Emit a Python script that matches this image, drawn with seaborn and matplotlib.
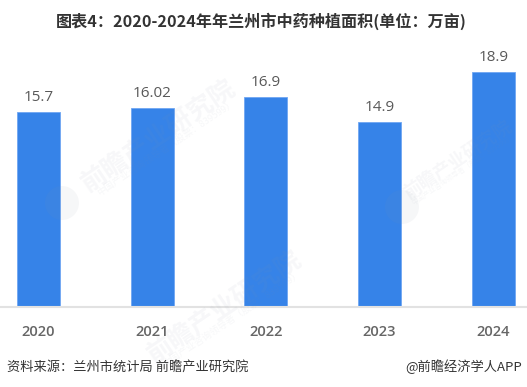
import matplotlib
matplotlib.use("Agg")
import matplotlib.pyplot as plt
from matplotlib.patches import Circle
from matplotlib.transforms import IdentityTransform
import seaborn as sns
import pandas as pd

years = ["2020", "2021", "2022", "2023", "2024"]
values = [15.7, 16.02, 16.9, 14.9, 18.9]
value_labels = ["15.7", "16.02", "16.9", "14.9", "18.9"]
title = "图表4：2020-2024年年兰州市中药种植面积(单位：万亩)"
source = "资料来源：兰州市统计局 前瞻产业研究院"
credit = "@前瞻经济学人APP"
watermark = "前瞻产业研究院"
watermark_small = "中国产业咨询领导者（股票：839599）"

sns.set_theme(style="white")
plt.rcParams["font.family"] = ["Noto Sans CJK SC", "DejaVu Sans"]

W, H = 527, 387
fig = plt.figure(figsize=(W / 100, H / 100), dpi=100, facecolor="white")
base = 307
ax = fig.add_axes([0, (H - base) / H, 1, base / H])
df = pd.DataFrame({"year": years, "value": values})
sns.barplot(data=df, x="year", y="value", ax=ax, color="#3683E8", saturation=1,
            width=0.378, edgecolor="#6FA6F2", linewidth=0.6, zorder=2)
step = 113.7
c0 = 38.5
ax.set_xlim(-c0 / step, (W - c0) / step)
ax.set_ylim(0, base / 12.43)
ax.set_xlabel("")
ax.set_ylabel("")
ax.set_yticks([])
ax.tick_params(axis="x", length=0, pad=13, labelsize=10.5, labelcolor="#666666")
for t in ax.get_xticklabels():
    t.set_fontfamily("Open Sans")
    t.set_fontweight("semibold")
for s in ["top", "left", "right"]:
    ax.spines[s].set_visible(False)
ax.spines["bottom"].set_color("#E2E2E2")
ax.spines["bottom"].set_linewidth(1.5)

for i, (v, lab) in enumerate(zip(values, value_labels)):
    ax.annotate(lab, (i, v), xytext=(0, 5), textcoords="offset points", ha="center", va="bottom",
                fontsize=11, color="#595959", fontfamily="Open Sans")

wm_color = "#8A94A6"
for x, y, fs, fs2, dx, dy in [(159, 136, 18.5, 6.8, 7, 12), (458, 160, 13, 5, 5, 10), (225, 307, 18.5, 6.8, 7, 12)]:
    fig.text(x / W, 1 - y / H, watermark, rotation=34, ha="center", va="center", fontsize=fs,
             color=wm_color, alpha=0.07, fontweight="bold", zorder=5, rotation_mode="anchor")
    fig.text((x + dx) / W, 1 - (y + dy) / H, watermark_small, rotation=34, ha="center", va="center",
             fontsize=fs2, color=wm_color, alpha=0.07, zorder=5, rotation_mode="anchor")
for x, y in [(62, 203), (402, 207)]:
    fig.add_artist(Circle((x, H - y), 17, transform=IdentityTransform(), facecolor=wm_color,
                          edgecolor="none", alpha=0.07, zorder=5))

fig.text(261 / W, 1 - 21 / H, title, ha="center", va="center", fontsize=11.6, fontweight="bold", color="#333333")
fig.text(7 / W, 1 - 367 / H, source, ha="left", va="center", fontsize=9.5, color="#333333")
fig.text(522 / W, 1 - 367 / H, credit, ha="right", va="center", fontsize=9.5, color="#333333")

fig.savefig("out.png", dpi=100)
